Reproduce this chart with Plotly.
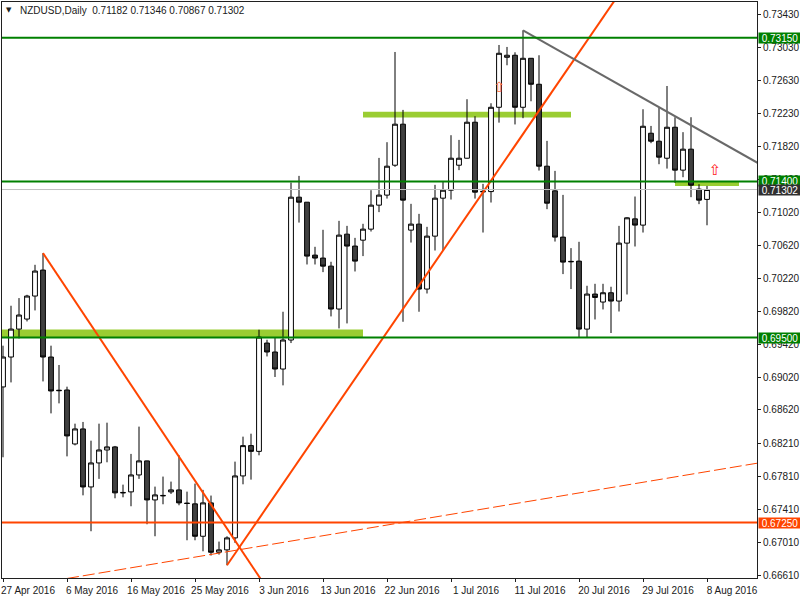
import pandas as pd
import plotly.graph_objects as go

# MT4 daily feed: Sunday bars included, no Saturday bars
days = pd.date_range("2016-04-27", "2016-08-08", freq="D")
days = days[days.dayofweek != 5]
dates = [d.strftime("%Y-%m-%d") + " 12:00" for d in days]

opens = [0.68900, 0.69264, 0.69604, 0.69726, 0.70006, 0.70322, 0.69264, 0.68860, 0.68863, 0.68206,
         0.68389, 0.67683, 0.67975, 0.68133, 0.68170, 0.67616, 0.67623, 0.67829, 0.68000, 0.67525,
         0.67580, 0.67623, 0.67647, 0.67486, 0.67477, 0.67083, 0.67489, 0.66888, 0.66917, 0.67063,
         0.67817, 0.68186, 0.68116, 0.69434, 0.69325, 0.69118, 0.69471, 0.71209, 0.71148, 0.70504,
         0.70468, 0.70370, 0.69848, 0.70759, 0.70614, 0.70686, 0.70820, 0.71112, 0.71234, 0.71598,
         0.72097, 0.70808, 0.70881, 0.70091, 0.70735, 0.71197, 0.71294, 0.71598, 0.71683, 0.72121,
         0.71280, 0.71277, 0.72303, 0.72911, 0.72936, 0.72303, 0.72899, 0.72583, 0.71586, 0.71286,
         0.70723, 0.70428, 0.70431, 0.69604, 0.70030, 0.69933, 0.70046, 0.69945, 0.70650, 0.70945,
         0.70869, 0.71987, 0.71890, 0.71683, 0.72060, 0.71538, 0.71793, 0.71307, 0.71182]
highs = [0.69402, 0.69888, 0.69981, 0.70021, 0.70386, 0.70528, 0.69402, 0.69167, 0.68903, 0.68453,
         0.68474, 0.68246, 0.68453, 0.68465, 0.68182, 0.67711, 0.68085, 0.68417, 0.68003, 0.67687,
         0.67809, 0.67748, 0.68068, 0.67626, 0.67724, 0.67647, 0.67578, 0.67018, 0.67083, 0.67991,
         0.68295, 0.68331, 0.69596, 0.69474, 0.69495, 0.69815, 0.71387, 0.71468, 0.71150, 0.70605,
         0.70812, 0.70423, 0.70921, 0.70860, 0.70714, 0.70885, 0.71294, 0.71687, 0.71878, 0.72976,
         0.72271, 0.71128, 0.71006, 0.70848, 0.71359, 0.71404, 0.71963, 0.71906, 0.72401, 0.72194,
         0.71371, 0.72352, 0.73061, 0.73037, 0.72972, 0.73240, 0.72900, 0.72936, 0.71894, 0.71529,
         0.71237, 0.70589, 0.70666, 0.70131, 0.70155, 0.70155, 0.70119, 0.70860, 0.70966, 0.71217,
         0.72279, 0.72076, 0.72295, 0.72562, 0.72182, 0.72000, 0.72182, 0.71367, 0.71346]
lows = [0.68044, 0.68955, 0.69490, 0.69697, 0.69831, 0.68967, 0.68578, 0.68700, 0.68055, 0.68189,
        0.67581, 0.67144, 0.67781, 0.67983, 0.67545, 0.67557, 0.67448, 0.67781, 0.67229, 0.67083,
        0.67472, 0.67598, 0.67460, 0.67034, 0.67034, 0.66900, 0.66848, 0.66860, 0.66730, 0.67003,
        0.67715, 0.67772, 0.68068, 0.69271, 0.69021, 0.68919, 0.69434, 0.70900, 0.70390, 0.70390,
        0.70297, 0.69758, 0.69612, 0.69673, 0.70305, 0.70492, 0.70791, 0.71027, 0.71192, 0.71578,
        0.69693, 0.70657, 0.69815, 0.70037, 0.70560, 0.70560, 0.71180, 0.71538, 0.71680, 0.71192,
        0.70779, 0.71144, 0.72116, 0.72814, 0.72094, 0.72170, 0.72376, 0.71533, 0.71063, 0.70669,
        0.70273, 0.70091, 0.69495, 0.69495, 0.69721, 0.69843, 0.69556, 0.69818, 0.70025, 0.70609,
        0.70779, 0.71866, 0.71610, 0.71557, 0.71383, 0.71452, 0.71209, 0.71124, 0.70867]
closes = [0.69264, 0.69604, 0.69775, 0.70006, 0.70310, 0.69264, 0.68851, 0.68855, 0.68304, 0.68389,
          0.67683, 0.67975, 0.68133, 0.68170, 0.67611, 0.67612, 0.67829, 0.68000, 0.67525, 0.67586,
          0.67576, 0.67647, 0.67489, 0.67482, 0.67083, 0.67489, 0.66888, 0.66917, 0.67063, 0.67817,
          0.68186, 0.68116, 0.69507, 0.69325, 0.69118, 0.69471, 0.71209, 0.71148, 0.70492, 0.70468,
          0.70370, 0.69848, 0.70747, 0.70614, 0.70431, 0.70820, 0.71112, 0.71234, 0.71586, 0.72097,
          0.71173, 0.70881, 0.70091, 0.70735, 0.71197, 0.71294, 0.71683, 0.71683, 0.72121, 0.71270,
          0.71275, 0.72303, 0.72960, 0.72936, 0.72303, 0.72899, 0.72583, 0.71586, 0.71136, 0.70723,
          0.70419, 0.70424, 0.69604, 0.70030, 0.69989, 0.70046, 0.69945, 0.70650, 0.70958, 0.70869,
          0.72072, 0.71890, 0.71696, 0.72060, 0.71538, 0.71793, 0.71355, 0.71173, 0.71302]

tick_dates = ["2016-04-27", "2016-05-06", "2016-05-16", "2016-05-25", "2016-06-03", "2016-06-13",
              "2016-06-22", "2016-07-01", "2016-07-11", "2016-07-20", "2016-07-29", "2016-08-08"]
tick_labels = ["27 Apr 2016", "6 May 2016", "16 May 2016", "25 May 2016", "3 Jun 2016", "13 Jun 2016",
               "22 Jun 2016", "1 Jul 2016", "11 Jul 2016", "20 Jul 2016", "29 Jul 2016", "8 Aug 2016"]
price_ticks = [0.73430, 0.73030, 0.72630, 0.72230, 0.71820, 0.71420, 0.71020, 0.70620, 0.70220,
               0.69820, 0.69420, 0.69020, 0.68620, 0.68210, 0.67810, 0.67410, 0.67010, 0.66610]

green_levels = [0.73150, 0.71400, 0.69500]
red_level = 0.67250
last_price = 0.71302

band_start = ["2016-04-20", "2016-06-19", "2016-08-03"]
band_end = ["2016-06-19", "2016-07-19", "2016-08-12"]
band_low = [0.69500, 0.72180, 0.71345]
band_high = [0.69600, 0.72250, 0.71400]

down_dates = ["2016-05-03 12:00", "2016-06-05 12:00"]
down_prices = [0.70528, 0.66448]
up_dates = ["2016-05-30 12:00", "2016-07-29 12:00"]
up_prices = [0.66730, 0.74105]
dash_dates = ["2016-05-06 12:00", "2016-08-17 12:00"]
dash_prices = [0.66569, 0.68000]
gray_dates = ["2016-07-12 12:00", "2016-08-17 12:00"]
gray_prices = [0.73240, 0.71535]

arrow_dates = ["2016-07-08 12:00", "2016-08-09 12:00"]
arrow_prices = [0.72526, 0.71529]

FONT = "Liberation Sans, Arial, sans-serif"
GREEN = "#008000"
ORANGE = "#FF4500"

fig = go.Figure()

fig.add_trace(go.Candlestick(
    x=dates, open=opens, high=highs, low=lows, close=closes,
    increasing=dict(line=dict(color="black", width=1), fillcolor="white"),
    decreasing=dict(line=dict(color="black", width=1), fillcolor="#404040"),
    whiskerwidth=0, showlegend=False, hoverinfo="skip",
))

# trend lines
fig.add_trace(go.Scatter(x=down_dates, y=down_prices, mode="lines",
                         line=dict(color=ORANGE, width=2), showlegend=False, hoverinfo="skip"))
fig.add_trace(go.Scatter(x=up_dates, y=up_prices, mode="lines",
                         line=dict(color=ORANGE, width=2), showlegend=False, hoverinfo="skip"))
fig.add_trace(go.Scatter(x=dash_dates, y=dash_prices, mode="lines",
                         line=dict(color=ORANGE, width=1, dash="12px,4px"), showlegend=False, hoverinfo="skip"))
fig.add_trace(go.Scatter(x=gray_dates, y=gray_prices, mode="lines",
                         line=dict(color="#696969", width=2), showlegend=False, hoverinfo="skip"))

# arrow objects
fig.add_trace(go.Scatter(x=arrow_dates, y=arrow_prices, mode="text", text=["⇧", "⇧"],
                         textfont=dict(family="DejaVu Sans", size=[14, 15], color=["#ff6a3d", "#ff2020"]),
                         showlegend=False, hoverinfo="skip"))

shapes = []
for x0, x1, lo, hi in zip(band_start, band_end, band_low, band_high):
    shapes.append(dict(type="rect", xref="x", yref="y", x0=x0 + " 12:00", x1=x1 + " 12:00",
                       y0=lo, y1=hi, fillcolor="#9ACD32", line=dict(width=0), layer="below"))
shapes.append(dict(type="line", xref="paper", yref="y", x0=0, x1=1, y0=last_price, y1=last_price,
                   line=dict(color="#C0C0C0", width=1), layer="above"))
for lvl in green_levels:
    shapes.append(dict(type="line", xref="paper", yref="y", x0=0, x1=1, y0=lvl, y1=lvl,
                       line=dict(color=GREEN, width=2), layer="above"))
shapes.append(dict(type="line", xref="paper", yref="y", x0=0, x1=1, y0=red_level, y1=red_level,
                   line=dict(color=ORANGE, width=2), layer="above"))

annotations = []
level_boxes = [(lvl, GREEN) for lvl in green_levels] + [(last_price, "#303030"), (red_level, ORANGE)]
for lvl, col in level_boxes:
    annotations.append(dict(xref="paper", x=1, xanchor="left", xshift=1, yref="y", y=lvl,
                            text=f"{lvl:.5f}", showarrow=False, bgcolor=col, borderpad=0,
                            width=42, height=10, font=dict(family=FONT, size=10, color="white")))
annotations.append(dict(xref="paper", x=0.0093, xanchor="center", yref="paper", y=0.986, yanchor="middle",
                        text="▼", showarrow=False, font=dict(family="DejaVu Sans", size=7, color="#202020")))
annotations.append(dict(xref="paper", x=0.0212, xanchor="left", yref="paper", y=0.986, yanchor="middle",
                        text="NZDUSD,Daily\u00a0\u00a00.71182 0.71346 0.70867 0.71302", showarrow=False,
                        font=dict(family=FONT, size=10, color="#202020")))

fig.update_layout(
    width=800, height=600,
    margin=dict(l=2, r=43, t=2, b=22, autoexpand=False),
    paper_bgcolor="white", plot_bgcolor="white",
    boxgap=0.25, boxgroupgap=0.2,
    shapes=shapes, annotations=annotations,
    xaxis=dict(
        type="date", range=["2016-04-27 09:00", "2016-08-15 18:00"],
        rangebreaks=[dict(pattern="day of week", bounds=["sat", "sun"])],
        rangeslider=dict(visible=False), automargin=False,
        tickvals=[d + " 12:00" for d in tick_dates], ticktext=tick_labels,
        ticks="outside", ticklen=3, tickcolor="#202020", ticklabelshift=25,
        showline=True, linecolor="#202020", linewidth=1, mirror=True,
        showgrid=False, zeroline=False,
        tickfont=dict(family=FONT, size=10, color="#202020"),
    ),
    yaxis=dict(
        side="right", range=[0.66575, 0.73584], automargin=False,
        tickvals=price_ticks, ticktext=[f"{p:.5f}" for p in price_ticks],
        ticks="outside", ticklen=3, tickcolor="#202020",
        showline=True, linecolor="#202020", linewidth=1, mirror=True,
        showgrid=False, zeroline=False,
        tickfont=dict(family=FONT, size=10, color="#202020"),
    ),
)

# the page's default 8px body margin would shift the 800x600 figure
fig.write_html("out.html", config={"displayModeBar": False},
               post_script="document.body.style.margin='0';")
